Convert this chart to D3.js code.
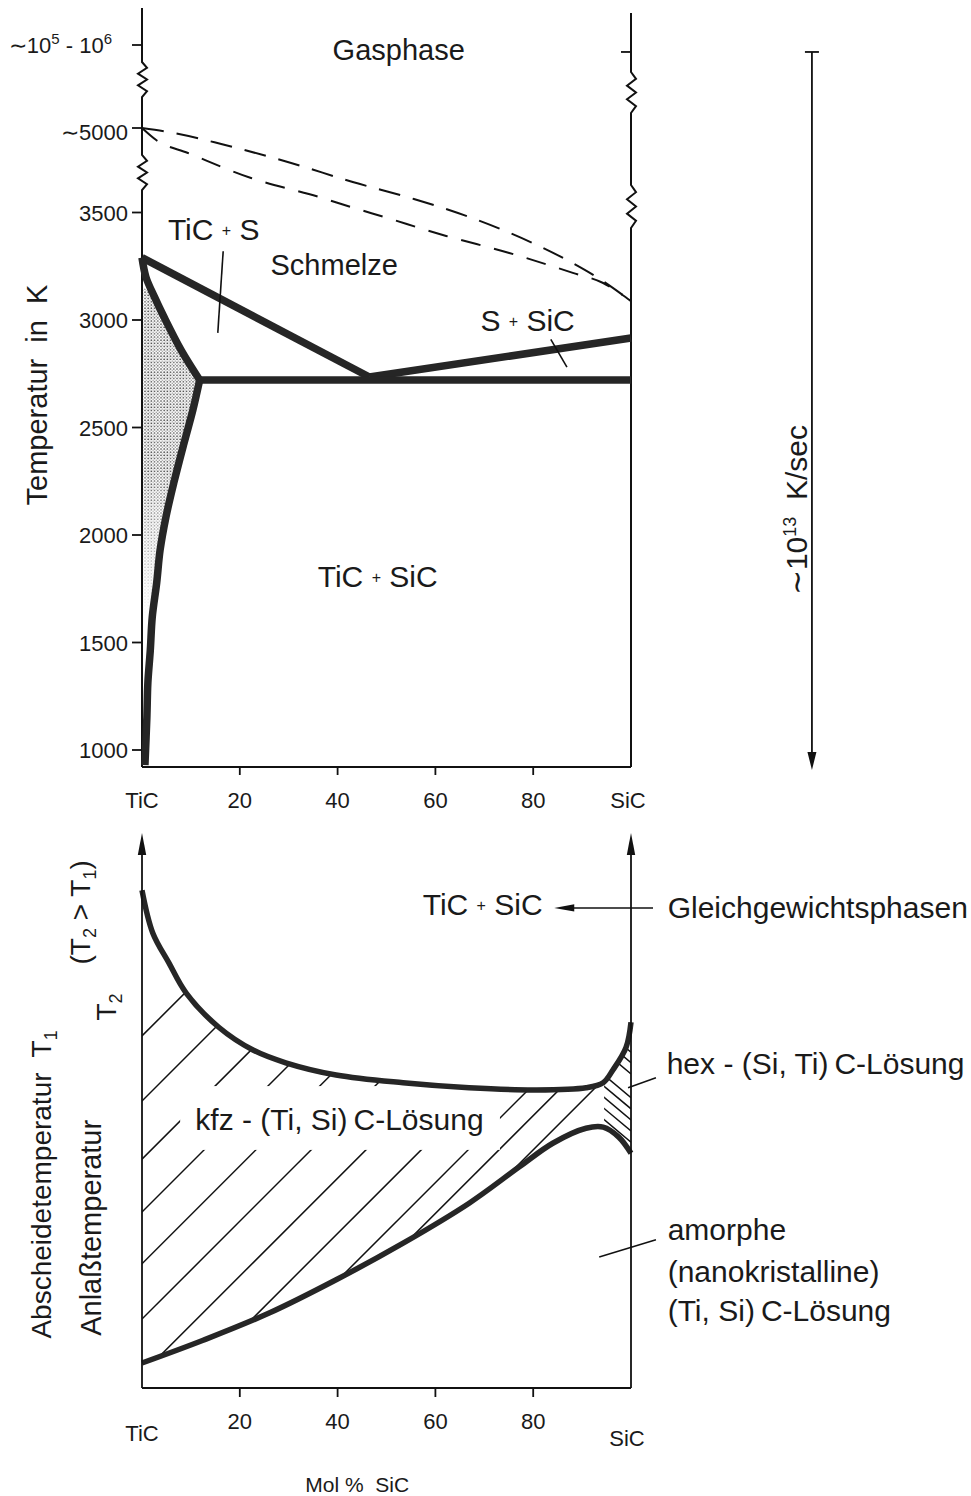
<!DOCTYPE html>
<html lang="de">
	<head>
		<meta charset="utf-8">
		<title>TiC - SiC Phasendiagramm</title>
		<script type="text/javascript" src="https://cdnjs.cloudflare.com/ajax/libs/d3/7.8.5/d3.min.js"></script>
		<style type="text/css">
			body { margin: 0; background: #fff; }
			svg { display: block; }
			text { font-family: "Liberation Sans", Arial, sans-serif; fill: #1a1a1a; }
		</style>
	</head>
	<body>
		<script type="text/javascript">

			//Width and height
			var w = 971;
			var h = 1496;

			//Composition ticks (Mol % SiC)
			var xTicks = [20, 40, 60, 80];

			//Temperature ticks of the upper diagram (K)
			var tTicks = [1000, 1500, 2000, 2500, 3000, 3500];
			//broken part of the axis: 5000 and the 10^5-10^6 mark
			var tBroken = [5000, 6000];
			var tBrokenLabels = ["5000", "10"];

			//Phase boundaries, [mol % SiC, T in K]
			var liquidusTiC = [[0, 3290], [46.5, 2735]];
			var liquidusSiC = [[46.5, 2735], [100, 2916]];
			var eutectic = [[11.8, 2721], [100, 2721]];
			var solidus = [[0, 3290], [0.8, 3200], [2.5, 3110], [4.5, 3014], [8.0, 2860], [11.8, 2721]];
			var solvus = [[11.8, 2721], [10.4, 2581], [8.6, 2428], [6.5, 2242], [4.9, 2084], [3.7, 1930],
						  [3.0, 1777], [2.1, 1619], [1.7, 1465], [1.2, 1312], [1.0, 1153], [0.6, 930]];

			//Gas phase boundaries (dashed)
			var gasUpper = [[0, 5000], [6.5, 4911], [16.2, 4716], [30.5, 4379], [43.1, 4041], [55.6, 3740],
							[62.2, 3562], [74.8, 3409], [87.3, 3274], [93.3, 3195], [100, 3088]];
			var gasLower = [[0, 5000], [2.9, 4787], [9.4, 4556], [22.3, 4112], [36.2, 3775], [42.7, 3598],
							[49.5, 3479], [62.2, 3391], [75.1, 3312], [88.1, 3219], [94.3, 3172], [100, 3088]];

			//Axis extents and break marks (K)
			var tAxisBottom = 921;
			var tAxisTopLeft = 6446;
			var tAxisTopRight = 6386;
			var breaksLeft = [[5795, 5373], [4521, 3899]];
			var breaksRight = [[5675, 5181], [3988, 3428]];
			var tRightTick = 5916;
			var tQuenchEnd = 907;

			//Lower diagram: relative temperature 0..100
			var kfzUpper = [[0, 89.7], [2.2, 82.0], [5.5, 76.6], [9.0, 71.2], [15.7, 65.0], [22.7, 60.9],
							[29.4, 58.6], [39.7, 56.4], [53.4, 55.0], [66.9, 54.1], [80.6, 53.7], [90.8, 54.1],
							[94.3, 55.0], [96.3, 57.3], [99.0, 61.4], [100, 65.9]];
			var kfzLower = [[0, 4.5], [12.5, 8.6], [26.0, 13.5], [39.7, 19.5], [53.4, 26.1], [66.9, 33.3],
							[77.1, 39.8], [84.0, 44.1], [90.8, 46.8], [94.3, 47.0], [97.5, 45.2], [100, 42.3]];

			//Hatching: kfz lines (45 deg) by their crossing of t = 0, hex lines by their crossing of the SiC axis
			var kfzHatch = [-72.0, -58.7, -46.8, -36.0, -25.4, -14.1, -2.9, 8.4, 18.0, 24.3, 31.3];
			var hexHatch = [64.5, 62.5, 60.5, 58.6, 56.6, 52.3, 50.3, 48.3, 46.3, 44.3];
			var hexBorder = 94.5;

			//Scales
			var x = d3.scaleLinear().domain([0, 100]).range([142, 631]);
			var yT = d3.scaleLinear().domain([1000, 3500, 5000, 6000]).range([750, 212.5, 128, 45]);
			var yB = d3.scaleLinear().domain([0, 100]).range([1388, 833]);

			//Create SVG element
			var svg = d3.select("body")
						.append("svg")
						.attr("width", w)
						.attr("height", h);

			var defs = svg.append("defs");

			//stipple for the TiC solid solution
			var pat = defs.append("pattern")
						  .attr("id", "dots")
						  .attr("patternUnits", "userSpaceOnUse")
						  .attr("width", 3.2)
						  .attr("height", 3.2);
			pat.append("circle").attr("cx", 1).attr("cy", 1).attr("r", 0.85).attr("fill", "#444");
			pat.append("circle").attr("cx", 2.6).attr("cy", 2.6).attr("r", 0.6).attr("fill", "#777");

			var grad = defs.append("linearGradient")
						   .attr("id", "fade")
						   .attr("gradientUnits", "userSpaceOnUse")
						   .attr("x1", 0).attr("x2", 0)
						   .attr("y1", yT(2300)).attr("y2", yT(1620));
			grad.append("stop").attr("offset", 0).attr("stop-color", "#fff");
			grad.append("stop").attr("offset", 1).attr("stop-color", "#000");
			defs.append("mask")
				.attr("id", "fadeMask")
				.attr("maskUnits", "userSpaceOnUse")
				.attr("x", 0).attr("y", 0).attr("width", w).attr("height", h)
				.append("rect")
				.attr("x", 0).attr("y", 0).attr("width", w).attr("height", h)
				.attr("fill", "url(#fade)");

			//line generators
			var lineT = d3.line()
						  .x(function(d) { return x(d[0]); })
						  .y(function(d) { return yT(d[1]); })
						  .curve(d3.curveCatmullRom);
			var lineB = d3.line()
						  .x(function(d) { return x(d[0]); })
						  .y(function(d) { return yB(d[1]); })
						  .curve(d3.curveCatmullRom);

			//vertical axis with zigzag break marks
			var brokenAxis = function(px, tStart, tEnd, breaks, scale) {
				var p = d3.path();
				p.moveTo(px, scale(tStart));
				breaks.forEach(function(b) {
					var y0 = scale(b[0]), y1 = scale(b[1]);
					var offs = [0, 5, -4, 5, -4, 5, 0];
					p.lineTo(px, y0);
					offs.forEach(function(o, i) {
						p.lineTo(px + o, y0 + (y1 - y0) * i / (offs.length - 1));
					});
				});
				p.lineTo(px, scale(tEnd));
				return p.toString();
			};

			var arrowHead = function(tipX, tipY, dx, dy, len, half) {
				// dx, dy unit direction of the arrow
				var bx = tipX - dx * len, by = tipY - dy * len;
				return "M" + tipX + "," + tipY +
					   "L" + (bx - dy * half) + "," + (by + dx * half) +
					   "L" + (bx + dy * half) + "," + (by - dx * half) + "Z";
			};

			var plusLabel = function(g, px, py, a, b, anchor) {
				var t = g.append("text").attr("x", px).attr("y", py)
						 .attr("text-anchor", anchor || "start").attr("font-size", 30)
						 .attr("xml:space", "preserve").style("white-space", "pre");
				t.append("tspan").text(a + " ");
				t.append("tspan").attr("font-size", 16).attr("dy", -4).text("+");
				t.append("tspan").attr("dy", 4).text(" " + b);
				return t;
			};

			/* ---------------- upper diagram ---------------- */

			var upper = svg.append("g").attr("class", "upper");

			//stippled area between axis, solidus and solvus
			var tStipTop = 3150, tStipBot = 1600;
			var stipple = [[0.3, tStipTop], [0.3, tStipBot]]
				.concat(solvus.filter(function(d) { return d[1] >= tStipBot; }).reverse())
				.concat(solidus.filter(function(d) { return d[1] <= tStipTop; }).reverse());
			upper.append("path")
			   .attr("d", d3.line().x(function(d) { return x(d[0]); }).y(function(d) { return yT(d[1]); })
			   				.curve(d3.curveLinearClosed)(stipple))
			   .attr("fill", "url(#dots)")
			   .attr("mask", "url(#fadeMask)");

			//axes
			upper.append("path")
			   .attr("d", brokenAxis(x(0), tAxisTopLeft, tAxisBottom, breaksLeft, yT))
			   .attr("fill", "none").attr("stroke", "#111").attr("stroke-width", 2);
			upper.append("path")
			   .attr("d", brokenAxis(x(100), tAxisTopRight, tAxisBottom, breaksRight, yT))
			   .attr("fill", "none").attr("stroke", "#111").attr("stroke-width", 2);
			upper.append("line")
			   .attr("x1", x(0)).attr("x2", x(100))
			   .attr("y1", yT(tAxisBottom)).attr("y2", yT(tAxisBottom))
			   .attr("stroke", "#111").attr("stroke-width", 2);

			//ticks
			upper.selectAll("line.ytick")
			   .data(tTicks.concat(tBroken))
			   .enter()
			   .append("line")
			   .attr("class", "ytick")
			   .attr("x1", x(0) - 10).attr("x2", x(0))
			   .attr("y1", function(d) { return yT(d); })
			   .attr("y2", function(d) { return yT(d); })
			   .attr("stroke", "#111").attr("stroke-width", 1.8);
			upper.append("line")
			   .attr("x1", x(100) - 10).attr("x2", x(100))
			   .attr("y1", yT(tRightTick)).attr("y2", yT(tRightTick))
			   .attr("stroke", "#111").attr("stroke-width", 1.8);
			upper.selectAll("line.xtick")
			   .data(xTicks)
			   .enter()
			   .append("line")
			   .attr("class", "xtick")
			   .attr("x1", function(d) { return x(d); })
			   .attr("x2", function(d) { return x(d); })
			   .attr("y1", yT(tAxisBottom)).attr("y2", yT(tAxisBottom) + 8)
			   .attr("stroke", "#111").attr("stroke-width", 1.8);

			//tick labels
			upper.selectAll("text.ylab")
			   .data(tTicks)
			   .enter()
			   .append("text")
			   .attr("class", "ylab")
			   .attr("x", x(0) - 14)
			   .attr("y", function(d) { return yT(d) + 8; })
			   .attr("text-anchor", "end")
			   .attr("font-size", 22)
			   .text(function(d) { return d; });

			upper.append("text")
			   .attr("x", x(0) - 14).attr("y", yT(tBroken[0]) + 12)
			   .attr("text-anchor", "end").attr("font-size", 22)
			   .text("\u223C" + tBrokenLabels[0]);

			var gl = upper.append("text")
						.attr("x", x(0) - 30).attr("y", yT(tBroken[1]) + 8)
						.attr("text-anchor", "end").attr("font-size", 22);
			gl.append("tspan").text("\u223C" + tBrokenLabels[1]);
			gl.append("tspan").attr("dy", -9).attr("font-size", 15).text("5");
			gl.append("tspan").attr("dy", 9).text(" - 10");
			gl.append("tspan").attr("dy", -9).attr("font-size", 15).text("6");

			upper.selectAll("text.xlab")
			   .data(xTicks)
			   .enter()
			   .append("text")
			   .attr("class", "xlab")
			   .attr("x", function(d) { return x(d); })
			   .attr("y", yT(tAxisBottom) + 41)
			   .attr("text-anchor", "middle")
			   .attr("font-size", 22)
			   .text(function(d) { return d; });
			upper.append("text").attr("x", x(0)).attr("y", yT(tAxisBottom) + 41)
			   .attr("text-anchor", "middle").attr("font-size", 22).text("TiC");
			upper.append("text").attr("x", x(100) - 3).attr("y", yT(tAxisBottom) + 41)
			   .attr("text-anchor", "middle").attr("font-size", 22).text("SiC");

			//axis title
			upper.append("text")
			   .attr("transform", "translate(47," + yT(2651) + ") rotate(-90)")
			   .attr("text-anchor", "middle")
			   .attr("font-size", 29)
			   .attr("xml:space", "preserve")
			   .style("white-space", "pre")
			   .text("Temperatur  in  K");

			//gas phase boundaries
			[gasUpper, gasLower].forEach(function(g, i) {
				upper.append("path")
				   .attr("d", d3.line().x(function(d) { return x(d[0]); }).y(function(d) { return yT(d[1]); })
				   				.curve(d3.curveMonotoneX)(g))
				   .attr("fill", "none")
				   .attr("stroke", "#111")
				   .attr("stroke-width", 2)
				   .attr("stroke-dasharray", i === 0 ? "22,13" : "20,14");
			});

			//phase boundaries
			[liquidusTiC, liquidusSiC, eutectic, solidus, solvus].forEach(function(b) {
				upper.append("path")
				   .attr("d", lineT(b))
				   .attr("fill", "none")
				   .attr("stroke", "#262626")
				   .attr("stroke-width", 7.5)
				   .attr("stroke-linejoin", "round");
			});

			//region labels
			upper.append("text").attr("x", (x(45) + x(60)) / 2).attr("y", yT(5819))
			   .attr("text-anchor", "middle").attr("font-size", 29).text("Gasphase");
			upper.append("text").attr("x", x(39.3)).attr("y", yT(3210))
			   .attr("text-anchor", "middle").attr("font-size", 29).text("Schmelze");

			plusLabel(upper, x(5.3), yT(3370), "TiC", "S");
			plusLabel(upper, x(69.2), yT(2950), "S", "SiC");
			plusLabel(upper, x(48.2), yT(1760), "TiC", "SiC", "middle");

			//leader lines
			upper.append("line")
			   .attr("x1", x(16.6)).attr("y1", yT(3320))
			   .attr("x2", x(15.5)).attr("y2", yT(2940))
			   .attr("stroke", "#111").attr("stroke-width", 1.6);
			upper.append("line")
			   .attr("x1", x(83.6)).attr("y1", yT(2910))
			   .attr("x2", x(86.9)).attr("y2", yT(2781))
			   .attr("stroke", "#111").attr("stroke-width", 1.6);

			//quench rate arrow
			var xq = x(137.0);
			upper.append("line")
			   .attr("x1", xq).attr("x2", xq)
			   .attr("y1", yT(tRightTick)).attr("y2", yT(tQuenchEnd) - 10)
			   .attr("stroke", "#111").attr("stroke-width", 1.8);
			upper.append("line")
			   .attr("x1", xq - 7).attr("x2", xq + 7)
			   .attr("y1", yT(tRightTick)).attr("y2", yT(tRightTick))
			   .attr("stroke", "#111").attr("stroke-width", 1.8);
			upper.append("path")
			   .attr("d", arrowHead(xq, yT(tQuenchEnd), 0, 1, 18, 4.5))
			   .attr("fill", "#111");
			var q = upper.append("text")
					   .attr("transform", "translate(" + (xq - 5) + "," + yT(2116) + ") rotate(-90)")
					   .attr("text-anchor", "middle")
					   .attr("font-size", 30)
					   .attr("xml:space", "preserve").style("white-space", "pre");
			q.append("tspan").text("\u223C10");
			q.append("tspan").attr("dy", -11).attr("font-size", 18).text("13");
			q.append("tspan").attr("dy", 11).text("  K/sec");

			/* ---------------- lower diagram ---------------- */

			var lower = svg.append("g").attr("class", "lower");

			//band between the two boundaries, used to clip the hatching
			var band = lineB(kfzUpper) + lineB(kfzLower.slice().reverse()).replace(/^M/, "L") + "Z";
			defs.append("clipPath").attr("id", "band").append("path").attr("d", band);
			defs.append("clipPath").attr("id", "kfzSide").append("rect")
				.attr("x", 0).attr("y", 0).attr("width", x(hexBorder)).attr("height", h);
			defs.append("clipPath").attr("id", "hexSide").append("rect")
				.attr("x", x(hexBorder)).attr("y", 0).attr("width", w).attr("height", h);

			var hatch = lower.append("g").attr("clip-path", "url(#band)");
			hatch.append("g")
				 .attr("clip-path", "url(#kfzSide)")
				 .selectAll("line")
				 .data(kfzHatch)
				 .enter()
				 .append("line")
				 .attr("x1", function(d) { return x(d); })
				 .attr("y1", yB(0))
				 .attr("x2", function(d) { return x(d) + 700; })
				 .attr("y2", yB(0) - 700)
				 .attr("stroke", "#111")
				 .attr("stroke-width", 1.5);
			hatch.append("g")
				 .attr("clip-path", "url(#hexSide)")
				 .selectAll("line")
				 .data(hexHatch)
				 .enter()
				 .append("line")
				 .attr("x1", x(100))
				 .attr("y1", function(d) { return yB(d); })
				 .attr("x2", x(100) - 50)
				 .attr("y2", function(d) { return yB(d) - 42; })
				 .attr("stroke", "#111")
				 .attr("stroke-width", 1.5);

			//knock out the hatching behind the kfz label
			lower.append("rect")
			   .attr("x", x(7.8)).attr("y", yB(54.4))
			   .attr("width", x(73.2) - x(7.8)).attr("height", yB(42.9) - yB(54.4))
			   .attr("fill", "#fff");

			//boundaries
			[kfzUpper, kfzLower].forEach(function(b) {
				lower.append("path")
				   .attr("d", lineB(b))
				   .attr("fill", "none")
				   .attr("stroke", "#262626")
				   .attr("stroke-width", 5.5)
				   .attr("stroke-linejoin", "round");
			});

			//axes with arrows
			[0, 100].forEach(function(v) {
				lower.append("line")
				   .attr("x1", x(v)).attr("x2", x(v))
				   .attr("y1", yB(0)).attr("y2", yB(100) + 12)
				   .attr("stroke", "#111").attr("stroke-width", 1.8);
				lower.append("path")
				   .attr("d", arrowHead(x(v), yB(100), 0, -1, 22, 4.2))
				   .attr("fill", "#111");
			});
			lower.append("line")
			   .attr("x1", x(0)).attr("x2", x(100))
			   .attr("y1", yB(0)).attr("y2", yB(0))
			   .attr("stroke", "#111").attr("stroke-width", 1.8);
			lower.selectAll("line.xtick")
			   .data(xTicks)
			   .enter()
			   .append("line")
			   .attr("class", "xtick")
			   .attr("x1", function(d) { return x(d); })
			   .attr("x2", function(d) { return x(d); })
			   .attr("y1", yB(0)).attr("y2", yB(0) + 9)
			   .attr("stroke", "#111").attr("stroke-width", 1.8);

			lower.selectAll("text.xlab")
			   .data(xTicks)
			   .enter()
			   .append("text")
			   .attr("class", "xlab")
			   .attr("x", function(d) { return x(d); })
			   .attr("y", yB(0) + 41)
			   .attr("text-anchor", "middle")
			   .attr("font-size", 22)
			   .text(function(d) { return d; });
			lower.append("text").attr("x", x(0)).attr("y", yB(0) + 53)
			   .attr("text-anchor", "middle").attr("font-size", 22).text("TiC");
			lower.append("text").attr("x", x(100) - 4).attr("y", yB(0) + 58)
			   .attr("text-anchor", "middle").attr("font-size", 22).text("SiC");
			lower.append("text").attr("x", x(44)).attr("y", yB(0) + 104)
			   .attr("text-anchor", "middle").attr("font-size", 21)
			   .attr("xml:space", "preserve").style("white-space", "pre")
			   .text("Mol %  SiC");

			//axis titles (rotated)
			var rot = function(px, py, fs) {
				return lower.append("text")
						  .attr("transform", "translate(" + px + "," + py + ") rotate(-90)")
						  .attr("font-size", fs)
						  .attr("xml:space", "preserve").style("white-space", "pre");
			};
			var t1 = rot(51, yB(8.9), 28);
			t1.append("tspan").text("Abscheidetemperatur  T");
			t1.append("tspan").attr("dy", 6).attr("font-size", 18).text("1");
			var t2 = rot(101, yB(9.4), 29);
			t2.append("tspan").text("Anla\u00DFtemperatur");
			var t3 = rot(116, yB(66.2), 28);
			t3.append("tspan").text("T");
			t3.append("tspan").attr("dy", 6).attr("font-size", 18).text("2");
			var t4 = rot(90, yB(76.3), 28);
			t4.append("tspan").text("(T");
			t4.append("tspan").attr("dy", 6).attr("font-size", 18).text("2");
			t4.append("tspan").attr("dy", -6).text(" > T");
			t4.append("tspan").attr("dy", 6).attr("font-size", 18).text("1");
			t4.append("tspan").attr("dy", -6).text(")");

			//labels
			plusLabel(lower, x(57.4), yB(85.3), "TiC", "SiC");
			lower.append("line")
			   .attr("x1", x(104.5)).attr("x2", x(84.3) + 18)
			   .attr("y1", yB(86.5)).attr("y2", yB(86.5))
			   .attr("stroke", "#111").attr("stroke-width", 1.6);
			lower.append("path")
			   .attr("d", arrowHead(x(84.3), yB(86.5), -1, 0, 20, 3.6))
			   .attr("fill", "#111");
			lower.append("text").attr("x", x(107.5)).attr("y", yB(84.7))
			   .attr("font-size", 30).text("Gleichgewichtsphasen");

			lower.append("text").attr("x", x(107.3)).attr("y", yB(56.6))
			   .attr("font-size", 30).text("hex - (Si, Ti)\u2009C-L\u00F6sung");
			lower.append("line")
			   .attr("x1", x(99.4)).attr("y1", yB(54.1))
			   .attr("x2", x(105.1)).attr("y2", yB(55.9))
			   .attr("stroke", "#111").attr("stroke-width", 1.5);

			lower.append("text").attr("x", x(10.9)).attr("y", yB(46.5))
			   .attr("font-size", 30).text("kfz - (Ti, Si)\u2009C-L\u00F6sung");

			[["amorphe", 26.7], ["(nanokristalline)", 19.1], ["(Ti, Si)\u2009C-L\u00F6sung", 12.1]].forEach(function(d) {
				lower.append("text").attr("x", x(107.5)).attr("y", yB(d[1]))
				   .attr("font-size", 30).text(d[0]);
			});
			lower.append("line")
			   .attr("x1", x(93.5)).attr("y1", yB(23.6))
			   .attr("x2", x(105.1)).attr("y2", yB(26.7))
			   .attr("stroke", "#111").attr("stroke-width", 1.5);

		</script>
	</body>
</html>
